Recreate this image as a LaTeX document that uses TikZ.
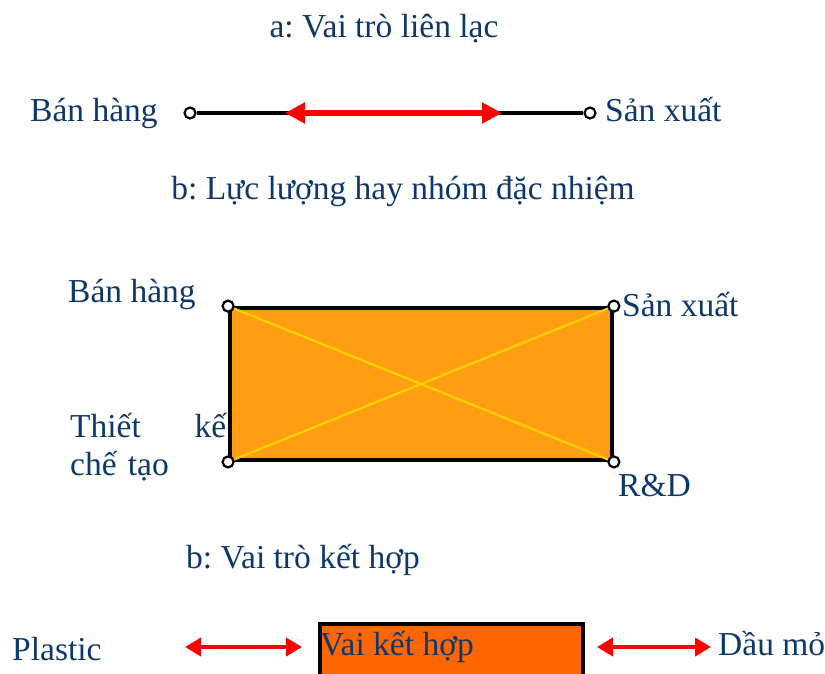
\documentclass[tikz,border=0pt]{standalone}
\usepackage{fontspec}
\setmainfont{Liberation Serif}
\frenchspacing
\usetikzlibrary{arrows.meta}
\definecolor{navy}{RGB}{14,56,108}
\definecolor{teamfill}{RGB}{255,158,19}
\definecolor{crossline}{RGB}{255,208,0}
\definecolor{mixfill}{RGB}{255,102,0}

\begin{document}
\begin{tikzpicture}[x=1pt, y=-1pt,
    txt/.style={text=navy, font=\fontsize{33.5}{38}\selectfont, inner sep=0pt},
    endpt/.style={circle, draw=black, fill=white, line width=2.2pt,
      inner sep=0pt, minimum size=11pt},
    bigarrow/.style={red, line width=6pt,
      {Triangle[length=20pt,width=20pt]}-{Triangle[length=20pt,width=20pt]}},
    smallarrow/.style={red, line width=4.5pt,
      {Triangle[length=16pt,width=18pt]}-{Triangle[length=16pt,width=18pt]}}]

  \clip (0,0) rectangle (825,673);

  % a: lien lac
  \node[txt, anchor=base] (titleA) at (384,37) {a: Vai trò liên lạc};
  \node[txt, anchor=base west] (salesA) at (30,121) {Bán hàng};
  \node[txt, anchor=base west] (prodA) at (605,121) {Sản xuất};
  \node[endpt] (a1) at (190,113) {};
  \node[endpt] (a2) at (590,113) {};
  \coordinate (a3) at (285,113);
  \coordinate (a4) at (502,113);
  \draw[line width=3.5pt] (a1) -- (a2);
  \draw[bigarrow] (a3) -- (a4);

  % b: nhom dac nhiem
  \node[txt, anchor=base] (titleB) at (403,199) {b: Lực lượng hay nhóm đặc nhiệm};
  \node[draw=black, line width=3.8pt, fill=teamfill, minimum width=382pt,
    minimum height=152pt, inner sep=0pt] (team) at (421,384) {};
  \path[crossline, line width=2.2pt]
    (team.north west) edge (team.south east)
    (team.south west) edge (team.north east);
  \node[endpt] (k1) at (team.north west) {};
  \node[endpt] (k2) at (team.north east) {};
  \node[endpt] (k3) at (team.south east) {};
  \node[endpt] (k4) at (team.south west) {};
  \node[txt, anchor=base west] (salesB) at (68,302) {Bán hàng};
  \node[txt, anchor=base west] (prodB) at (622,316) {Sản xuất};
  \node[txt, anchor=base west] (rnd) at (618,496) {R\&D};
  \node[txt, anchor=base west, text width=156pt, align=left]
    (design) at (70,437) {Thiết\hfill kế\\chế tạo};

  % b: ket hop
  \node[txt, anchor=base] (titleC) at (303,568) {b: Vai trò kết hợp};
  \node[draw=black, line width=3.5pt, fill=mixfill, anchor=north west,
    minimum width=263pt, minimum height=60pt, inner sep=0pt] (mix) at (318,622) {};
  \node[txt, anchor=base west] (mixtext) at (320,655) {Vai kết hợp};
  \node[txt, anchor=base west] (plastic) at (12,660) {Plastic};
  \node[txt, anchor=base west] (oil) at (718,655) {Dầu mỏ};
  \coordinate (p1) at (185,647);
  \coordinate (p2) at (302,647);
  \coordinate (p3) at (597,647);
  \coordinate (p4) at (711,647);
  \draw[smallarrow] (p1) -- (p2);
  \draw[smallarrow] (p3) -- (p4);

\end{tikzpicture}
\end{document}
